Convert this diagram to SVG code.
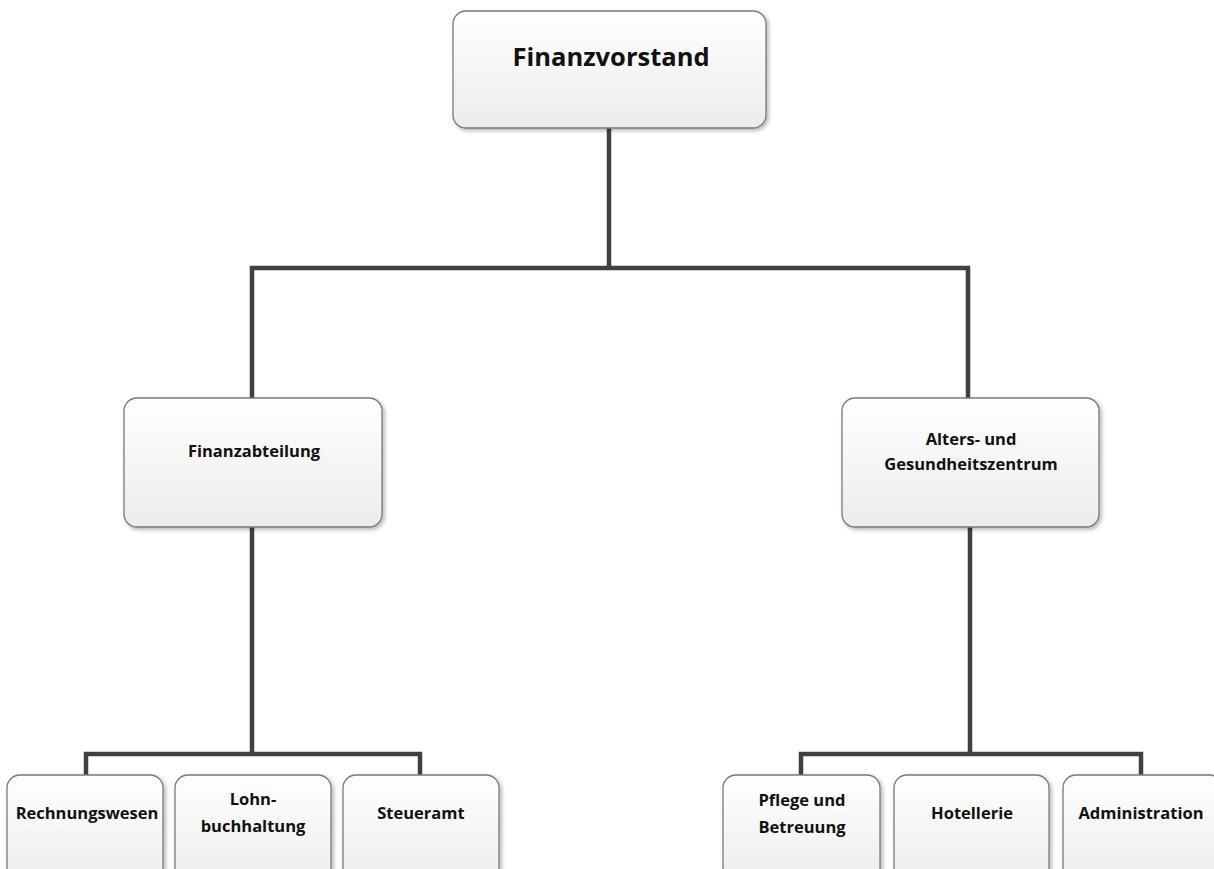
<svg xmlns="http://www.w3.org/2000/svg" width="1214" height="869" viewBox="0 0 1214 869">
  <defs>
    <linearGradient id="boxFill" x1="0" y1="0" x2="0" y2="1">
      <stop offset="0" stop-color="#ffffff"/>
      <stop offset="1" stop-color="#ececec"/>
    </linearGradient>
    <filter id="shadow" x="-10%" y="-10%" width="125%" height="125%">
      <feGaussianBlur in="SourceAlpha" stdDeviation="2"/>
      <feOffset dx="2" dy="2" result="b"/>
      <feComponentTransfer><feFuncA type="linear" slope="0.3"/></feComponentTransfer>
      <feMerge><feMergeNode/><feMergeNode in="SourceGraphic"/></feMerge>
    </filter>
  </defs>
  <style>
    .box { fill: url(#boxFill); stroke: #7a7a7a; stroke-width: 1.3; filter: url(#shadow); }
    .lbl { font-family: "Open Sans", "Liberation Sans", sans-serif; font-weight: bold; fill: #111; text-anchor: middle; }
    .small { font-size: 16.5px; }
    .big { font-size: 25.5px; }
    .conn { fill: none; stroke: #404040; stroke-width: 4.5; stroke-linejoin: miter; }
  </style>
  <rect width="1214" height="869" fill="#ffffff"/>

  <g id="connectors">
    <path class="conn" d="M609 128 V268 M252 398 V268 H968 V398"/>
    <path class="conn" d="M252 527 V754 M86 775 V754 H420 V775"/>
    <path class="conn" d="M970 527 V754 M801 775 V754 H1141 V775"/>
  </g>

  <g id="finanzvorstand">
    <rect class="box" x="453" y="11" width="313" height="117" rx="13"/>
    <text class="lbl big" x="611" y="66">Finanzvorstand</text>
  </g>

  <g id="finanzabteilung">
    <rect class="box" x="124" y="398" width="258" height="129" rx="13"/>
    <text class="lbl small" x="254" y="457">Finanzabteilung</text>
  </g>

  <g id="alterszentrum">
    <rect class="box" x="842" y="398" width="257" height="129" rx="13"/>
    <text class="lbl small" x="971" y="445">Alters- und</text>
    <text class="lbl small" x="971" y="470">Gesundheitszentrum</text>
  </g>

  <g id="rechnungswesen">
    <rect class="box" x="7" y="775" width="156" height="110" rx="13"/>
    <text class="lbl small" x="87" y="819">Rechnungswesen</text>
  </g>

  <g id="lohnbuchhaltung">
    <rect class="box" x="175" y="775" width="156" height="110" rx="13"/>
    <text class="lbl small" x="253" y="805">Lohn-</text>
    <text class="lbl small" x="253" y="832">buchhaltung</text>
  </g>

  <g id="steueramt">
    <rect class="box" x="343" y="775" width="156" height="110" rx="13"/>
    <text class="lbl small" x="421" y="819">Steueramt</text>
  </g>

  <g id="pflege">
    <rect class="box" x="723" y="775" width="157" height="110" rx="13"/>
    <text class="lbl small" x="802" y="806">Pflege und</text>
    <text class="lbl small" x="802" y="833">Betreuung</text>
  </g>

  <g id="hotellerie">
    <rect class="box" x="894" y="775" width="155" height="110" rx="13"/>
    <text class="lbl small" x="972" y="819">Hotellerie</text>
  </g>

  <g id="administration">
    <rect class="box" x="1063" y="775" width="160" height="110" rx="13"/>
    <text class="lbl small" x="1141" y="819">Administration</text>
  </g>
</svg>
